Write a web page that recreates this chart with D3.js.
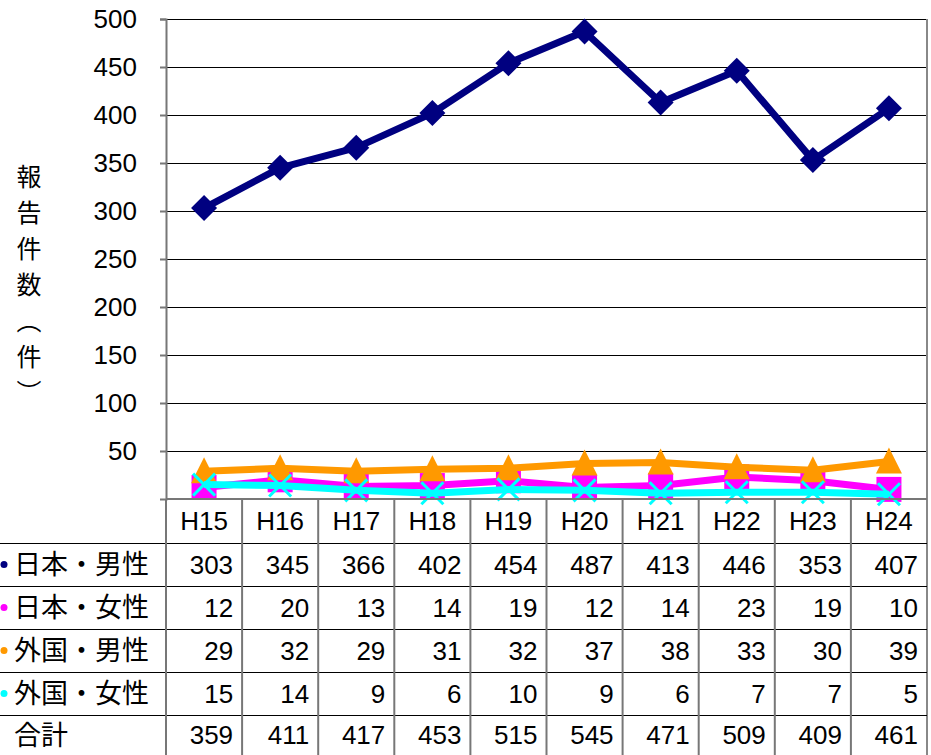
<!DOCTYPE html>
<html><head><meta charset="utf-8">
<script src="https://cdn.jsdelivr.net/npm/d3@7"></script>
<style>body{margin:0;background:#fff}svg{display:block}</style>
</head><body>
<script>
const categories = ["H15","H16","H17","H18","H19","H20","H21","H22","H23","H24"];
const seriesNames = ["日本・男性","日本・女性","外国・男性","外国・女性"];
const jpMale   = [303,345,366,402,454,487,413,446,353,407];
const jpFemale = [12,20,13,14,19,12,14,23,19,10];
const fgMale   = [29,32,29,31,32,37,38,33,30,39];
const fgFemale = [15,14,9,6,10,9,6,7,7,5];
const totals   = [359,411,417,453,515,545,471,509,409,461];
const yTicks   = [50,100,150,200,250,300,350,400,450,500];
const yLabel   = "報告件数（件）";

const colors = ["#000080","#FF00FF","#FF9900","#00FFFF"];
const markers = ["diamond","square","triangle","x"];
const seriesData = [jpMale, jpFemale, fgMale, fgFemale];

const W = 931, H = 755;
const svg = d3.select("body").append("svg").attr("width",W).attr("height",H);
const pLeft = 166, pRight = 927, pTop = 19, pBottom = 499;
const x = d3.scaleBand().domain(categories).range([pLeft,pRight]);
const y = d3.scaleLinear().domain([0,500]).range([pBottom,pTop]);
const numFont = "'Liberation Sans', Arial, sans-serif";
const jpFont = "'Noto Sans CJK JP', sans-serif";
const numSize = 26;

// gridlines
svg.append("g").selectAll("line").data(yTicks).join("line")
  .attr("x1",pLeft).attr("x2",pRight).attr("y1",d=>Math.round(y(d))+0.5).attr("y2",d=>Math.round(y(d))+0.5)
  .attr("stroke","#000").attr("stroke-width",1.2);

// y axis
const yAxis = d3.axisLeft(y).tickValues(yTicks).tickSize(6).tickPadding(23);
const ga = svg.append("g").attr("transform",`translate(${pLeft},0)`).call(yAxis);
ga.select(".domain").attr("stroke","#777").attr("stroke-width",2);
ga.selectAll(".tick line").attr("stroke","#777").attr("stroke-width",2);
ga.selectAll(".tick text").attr("font-family",numFont).attr("font-size",numSize).attr("fill","#000");
svg.append("line").attr("x1",pRight).attr("x2",pRight).attr("y1",pTop).attr("y2",H).attr("stroke","#888").attr("stroke-width",2);

// y label (vertical writing)
svg.append("text").attr("x",29).attr("y",164)
  .style("writing-mode","vertical-rl").style("letter-spacing","11px")
  .attr("font-family",jpFont).attr("font-size",25).attr("fill","#000").text(yLabel);

// lines & markers
const line = d3.line().x((d,i)=>x(categories[i])+x.bandwidth()/2).y(d=>y(d));
function markerPath(type){
  if(type==="diamond") return "M0,-13L13,0L0,13L-13,0Z";
  if(type==="square") return "M-12.5,-12.5L12.5,-12.5L12.5,12.5L-12.5,12.5Z";
  if(type==="triangle") return "M0,-14L13,12L-13,12Z";
  return "M-11,-11L11,11M11,-11L-11,11";
}
seriesData.forEach((vals,s)=>{
  const g = svg.append("g");
  g.append("path").attr("d",line(vals)).attr("fill","none").attr("stroke",colors[s]).attr("stroke-width",7).attr("stroke-linejoin","round");
  g.selectAll("path.m").data(vals).join("path").attr("class","m")
    .attr("transform",(d,i)=>`translate(${x(categories[i])+x.bandwidth()/2},${y(d)})`)
    .attr("d",markerPath(markers[s]))
    .attr("fill",markers[s]==="x"?"none":colors[s])
    .attr("stroke",markers[s]==="x"?colors[s]:"none")
    .attr("stroke-width",3);
});

// data table
const rowTops = [499,543,586,629,672,715,755];
const tg = svg.append("g");
rowTops.slice(1,6).forEach(ry=>{
  tg.append("line").attr("x1",0).attr("x2",pRight).attr("y1",ry+0.5).attr("y2",ry+0.5).attr("stroke","#000").attr("stroke-width",1.2);
});
tg.append("line").attr("x1",pLeft).attr("x2",pRight).attr("y1",499).attr("y2",499).attr("stroke","#777").attr("stroke-width",2);
categories.forEach(c=>{
  tg.append("line").attr("x1",x(c)).attr("x2",x(c)).attr("y1",499).attr("y2",H).attr("stroke","#777").attr("stroke-width",2);
});
tg.selectAll("text.h").data(categories).join("text").attr("class","h")
  .attr("x",d=>x(d)+x.bandwidth()/2).attr("y",521).attr("dy","0.36em").attr("text-anchor","middle")
  .attr("font-family",numFont).attr("font-size",numSize).text(d=>d);
const rows = [...seriesData, totals];
const rowNames = [...seriesNames, "合計"];
rows.forEach((vals,r)=>{
  const cy = (rowTops[r+1]+rowTops[r+2])/2;
  tg.selectAll(null).data(vals).join("text")
    .attr("x",(d,i)=>x(categories[i])+x.bandwidth()-9).attr("y",cy).attr("dy","0.36em").attr("text-anchor","end")
    .attr("font-family",numFont).attr("font-size",numSize).text(d=>d);
  tg.append("text").attr("x",14).attr("y",cy).attr("dy","0.36em").attr("font-family",jpFont).attr("font-size",27).text(rowNames[r]);
  if(r<4) tg.append("circle").attr("cx",4).attr("cy",cy).attr("r",3.5).attr("fill",colors[r]);
});
</script>
</body></html>
